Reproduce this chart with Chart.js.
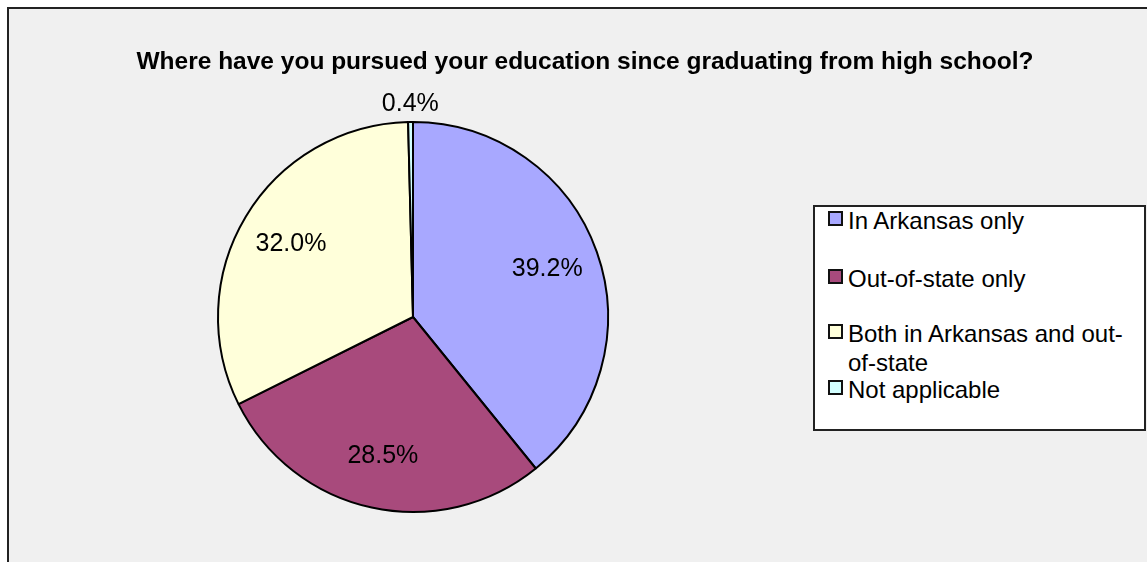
<!DOCTYPE html>
<html>
<head>
<meta charset="utf-8">
<script src="https://cdn.jsdelivr.net/npm/chart.js@4/dist/chart.umd.min.js"></script>
<style>
  html, body { margin: 0; padding: 0; background: #ffffff; width: 1147px; height: 562px; overflow: hidden;
    font-family: "Liberation Sans", Arial, sans-serif; color: #000; }
  #panel { position: absolute; left: 7px; top: 7px; width: 1200px; height: 600px; background: #f0f0f0;
    border-top: 2px solid #222; border-left: 2px solid #222; }
  #chart { position: absolute; left: 0; top: 0; }
  #title { position: absolute; left: 0; top: 46px; width: 1170px; text-align: center; font-weight: bold;
    font-size: 24.5px; line-height: 30px; white-space: nowrap; }
  #legend { position: absolute; left: 813px; top: 205px; width: 329px; height: 222px; background: #fff;
    border: 2px solid #222; }
  .item { position: absolute; left: 0; width: 320px; }
  .swatch { position: absolute; left: 13px; top: 5px; width: 15px; height: 15px; box-sizing: border-box;
    border: 2.5px solid #111; }
  .text { position: absolute; left: 33px; top: 0; width: 290px; font-size: 24px; line-height: 29px; }
</style>
</head>
<body>
<div id="panel"></div>
<canvas id="chart" width="1147" height="562"></canvas>
<div id="title"></div>
<div id="legend"></div>
<script>
// Survey answers and their shares (percent of respondents)
const categories = [
  'In Arkansas only',
  'Out-of-state only',
  'Both in Arkansas and out-of-state',
  'Not applicable'
];
const percentages = [39.2, 28.5, 32.0, 0.4];
const sliceColors = ['#a8a8ff', '#a84a7c', '#ffffda', '#d2ffff'];
const titleText = 'Where have you pursued your education since graduating from high school?';

// vertical offsets of the legend rows inside the legend box
const legendRowTops = [-1, 57, 112, 168];

document.getElementById('title').textContent = titleText;

// legend built from the same categories and colours as the pie
const legend = document.getElementById('legend');
categories.forEach((name, i) => {
  const row = document.createElement('div');
  row.className = 'item';
  row.style.top = legendRowTops[i] + 'px';
  const sw = document.createElement('span');
  sw.className = 'swatch';
  sw.style.background = sliceColors[i];
  const tx = document.createElement('div');
  tx.className = 'text';
  tx.textContent = name;
  row.appendChild(sw);
  row.appendChild(tx);
  legend.appendChild(row);
});

const total = percentages.reduce((a, b) => a + b, 0);

// percentage labels: inside each slice, outside for very thin slices
const sliceLabels = {
  id: 'sliceLabels',
  afterDatasetsDraw(chart) {
    const ctx = chart.ctx;
    const meta = chart.getDatasetMeta(0);
    ctx.save();
    ctx.font = '25px "Liberation Sans", Arial, sans-serif';
    ctx.fillStyle = '#000';
    ctx.textAlign = 'center';
    ctx.textBaseline = 'middle';
    meta.data.forEach((arc, i) => {
      const p = arc.getProps(['x', 'y', 'startAngle', 'endAngle', 'outerRadius'], true);
      const mid = (p.startAngle + p.endAngle) / 2;
      const share = percentages[i] / total;
      const d = share < 0.02 ? p.outerRadius + 18 : p.outerRadius * 0.73;
      ctx.fillText(percentages[i].toFixed(1) + '%', p.x + Math.cos(mid) * d, p.y + Math.sin(mid) * d);
    });
    ctx.restore();
  }
};

new Chart(document.getElementById('chart'), {
  type: 'pie',
  data: {
    labels: categories,
    datasets: [{
      data: percentages,
      backgroundColor: sliceColors,
      borderColor: '#000',
      borderWidth: 2,
      hoverOffset: 0
    }]
  },
  options: {
    responsive: false,
    animation: false,
    events: [],
    layout: { padding: { left: 217, right: 538, top: 121, bottom: 49 } },
    plugins: {
      legend: { display: false },
      tooltip: { enabled: false },
      title: { display: false }
    }
  },
  plugins: [sliceLabels]
});
</script>
</body>
</html>
